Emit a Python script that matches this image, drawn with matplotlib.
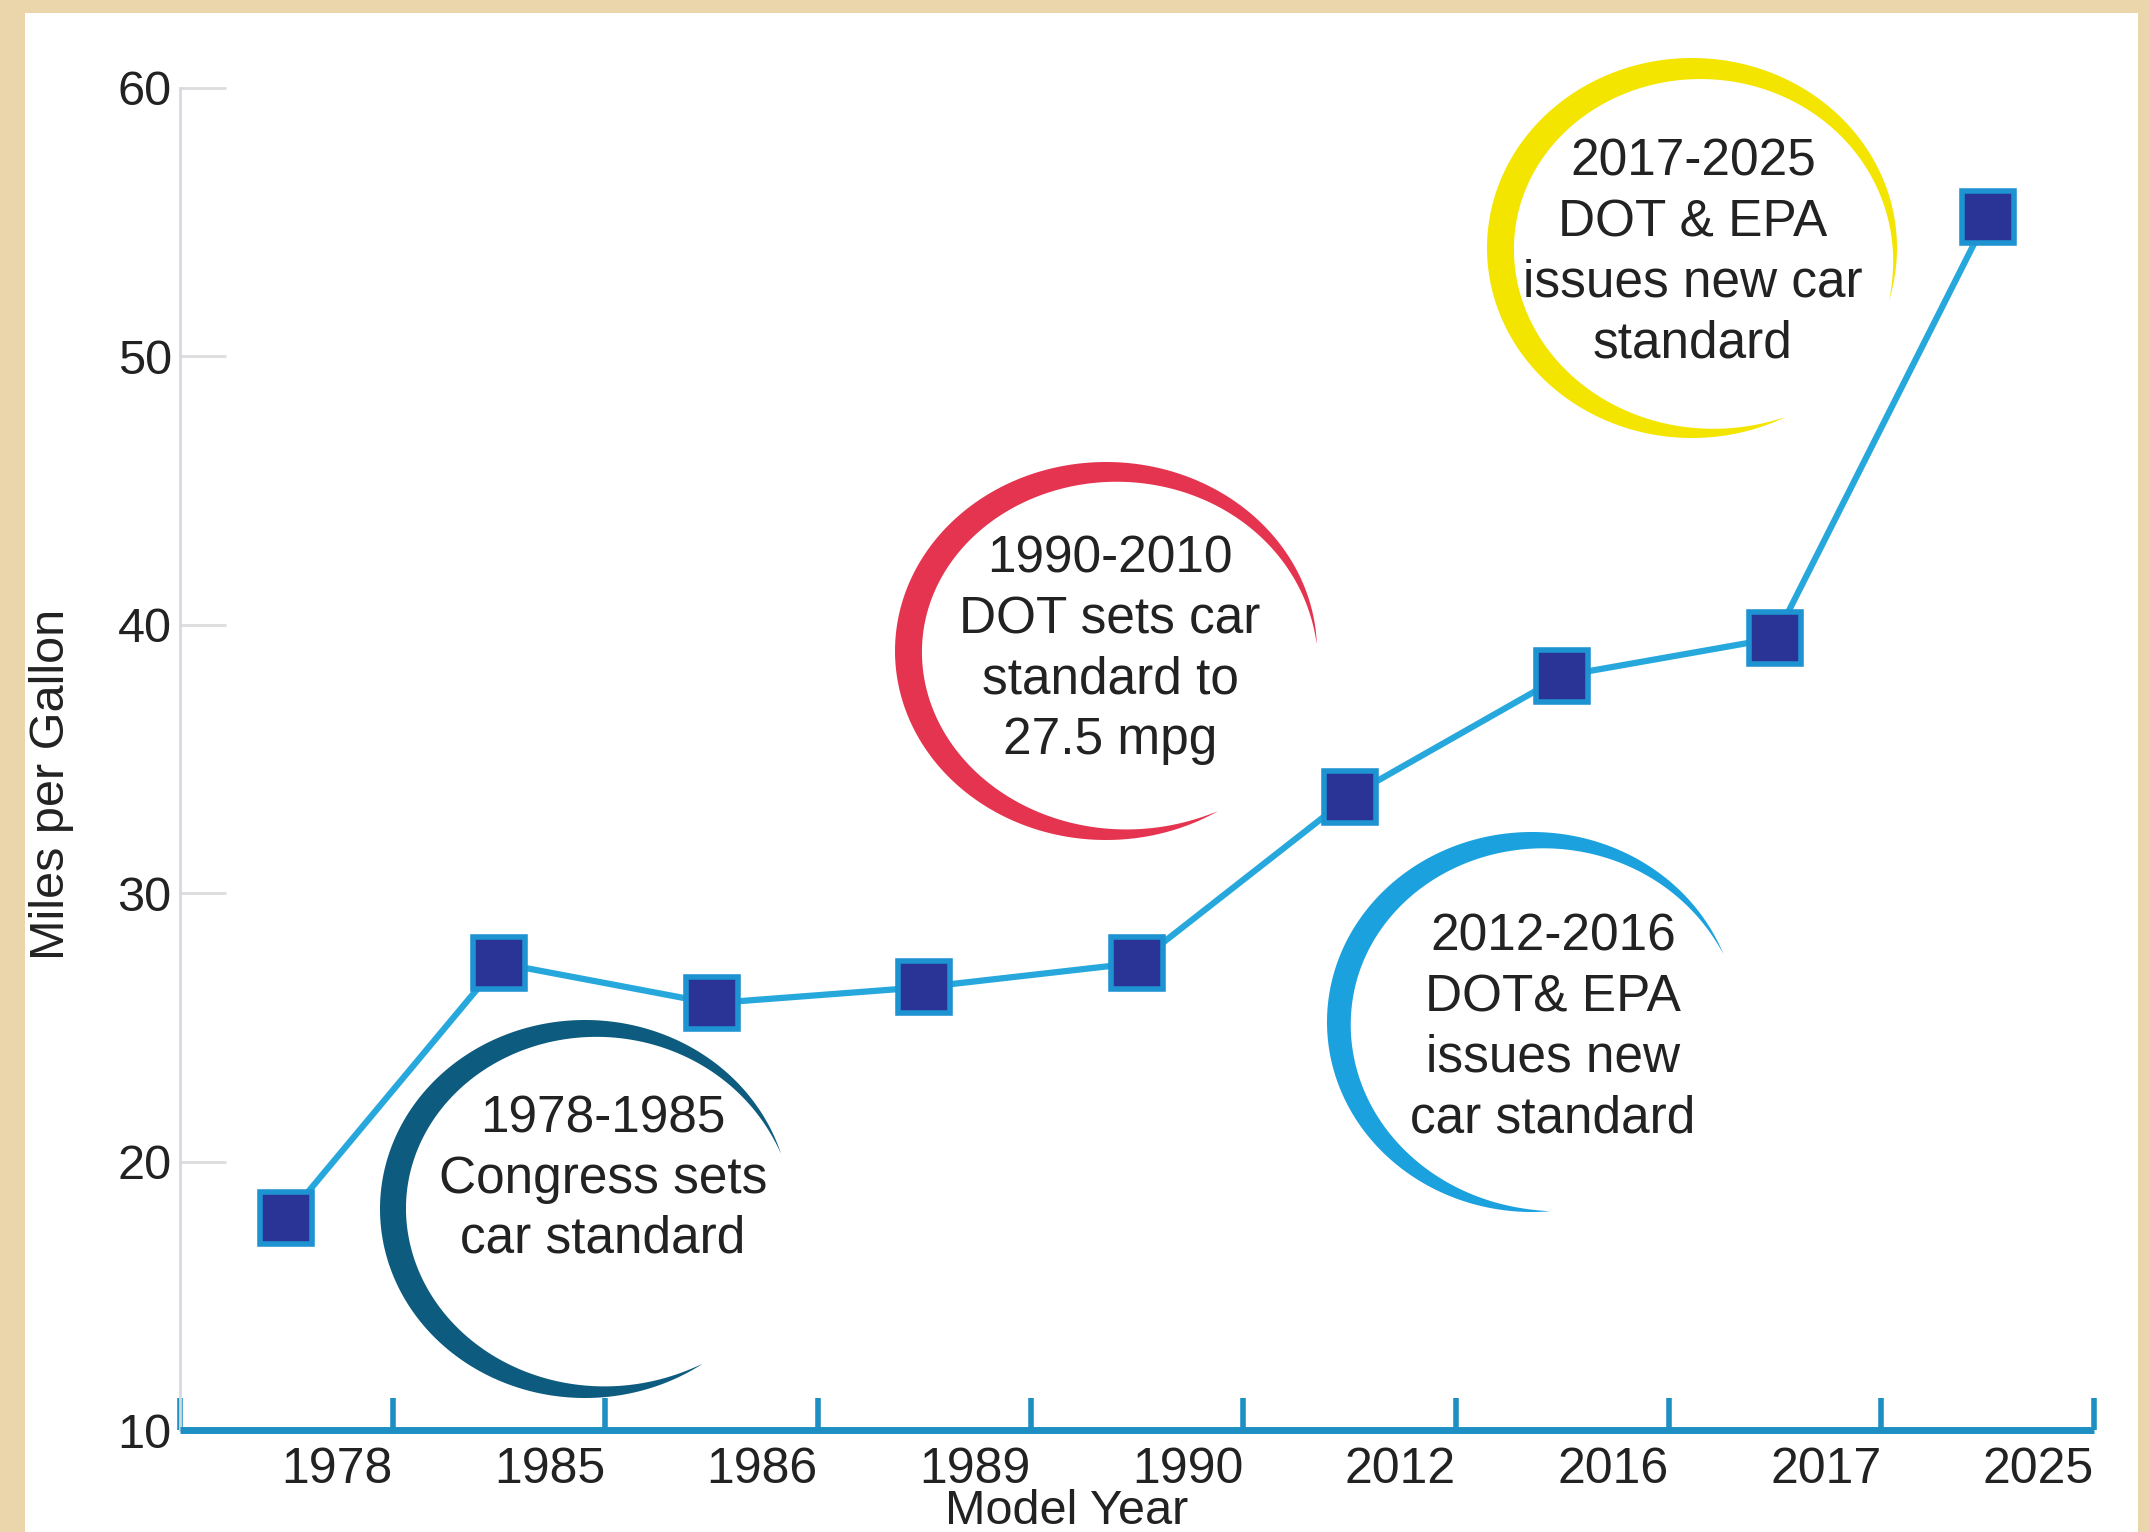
import numpy as np
import matplotlib
matplotlib.use("Agg")
import matplotlib.pyplot as plt
from matplotlib.patches import Rectangle, Polygon

plt.rcParams['font.family'] = ['Liberation Sans', 'DejaVu Sans']

# data
years = ['1978', '1985', '1986', '1989', '1990', '2012', '2016', '2017', '2025']
mpg = [17.9, 27.4, 25.9, 26.5, 27.4, 33.6, 38.1, 39.5, 55.2]
y_ticks = [10, 20, 30, 40, 50, 60]

# annotation bubbles (text, colour)
notes = ['1978-1985\nCongress sets\ncar standard',
         '1990-2010\nDOT sets car\nstandard to\n27.5 mpg',
         '2012-2016\nDOT& EPA\nissues new\ncar standard',
         '2017-2025\nDOT & EPA\nissues new car\nstandard']
note_colors = ['#0D5B7E', '#E5344F', '#1BA1DE', '#F3E500']

W, H = 2150, 1532
fig = plt.figure(figsize=(W / 100, H / 100), dpi=100, facecolor='#EBD6AC')
fig.patches.append(Rectangle((25 / W, 0), (2138 - 25) / W, 1 - 13 / H,
                             transform=fig.transFigure, facecolor='white',
                             edgecolor='none', zorder=0))

# overlay in pixel coords for the swoosh circles
ov = fig.add_axes([0, 0, 1, 1], zorder=1)
ov.set_xlim(0, W)
ov.set_ylim(H, 0)
ov.axis('off')


def swoosh(cx, cy, rx, ry, a0, a1, ap, t, color):
    ang = np.linspace(a0, a1, 400)
    u = (ang - a0) / (a1 - a0)
    up = (ap - a0) / (a1 - a0)
    s = np.where(u < up, np.sin(np.pi / 2 * u / up),
                 np.sin(np.pi / 2 * (1 - u) / (1 - up)))
    w = t * np.clip(s, 0, 1) ** 0.9
    r = np.radians(ang)
    ox, oy = cx + rx * np.cos(r), cy - ry * np.sin(r)
    ix, iy = cx + (rx - w) * np.cos(r), cy - (ry - w) * np.sin(r)
    pts = np.vstack([np.column_stack([ox, oy]),
                     np.column_stack([ix, iy])[::-1]])
    ov.add_patch(Polygon(pts, closed=True, facecolor=color, edgecolor='none'))


arcs = [(585, 1209, 205, 189, 17, 305, 185, 26),
        (1106, 651, 211, 189, 2, 302, 175, 27),
        (1532, 1022, 205, 190, 21, 275, 170, 24),
        (1692, 248, 205, 190, -16, 297, 175, 27)]
text_pos = [(603, 1179), (1110, 650), (1553, 1028), (1693, 253)]

for a, c, txt, tp in zip(arcs, note_colors, notes, text_pos):
    swoosh(*a, c)
    ov.text(tp[0], tp[1], txt, ha='center', va='center', fontsize=37,
            color='#222222', linespacing=1.3, multialignment='center')

# main chart
ax = fig.add_axes([180 / W, 1 - 1430 / H, (2094 - 180) / W, (1430 - 88) / H], zorder=2)
ax.set_facecolor('none')
x = np.arange(len(years)) + 0.5
ax.plot(x, mpg, color='#27A8DC', lw=4.5, marker='s', ms=38,
        mfc='#2A3396', mec='#1E93D2', mew=4, clip_on=False, zorder=3)

ax.set_xlim(0, len(years))
ax.set_ylim(10, 60)

for side in ['top', 'right']:
    ax.spines[side].set_visible(False)
ax.spines['left'].set_color('#D6DAE0')
ax.spines['left'].set_linewidth(2)
ax.spines['bottom'].set_color('#1E8FC3')
ax.spines['bottom'].set_linewidth(5)
ax.spines['bottom'].set_capstyle('butt')

ax.set_yticks(y_ticks)
ax.set_yticklabels([str(v) for v in y_ticks])
ax.tick_params(axis='y', direction='in', length=33, width=2, color='#DCDCDC',
               labelsize=35, labelcolor='#222222', pad=6)

ax.set_xticks(range(len(years) + 1))
ax.set_xticklabels([''] + years)
ax.tick_params(axis='x', direction='in', length=23, width=4, color='#1E8FC3',
               labelsize=36, labelcolor='#222222', pad=12)
for lbl in ax.get_xticklabels():
    lbl.set_horizontalalignment('right')

fig.text(52 / W, 1 - 784 / H, 'Miles per Gallon', rotation=90, ha='center',
         va='center', fontsize=35, color='#222222')
fig.text(1067 / W, 1 - 1524 / H, 'Model Year', ha='center', va='baseline',
         fontsize=35, color='#222222')

fig.savefig('out.png', dpi=100, facecolor=fig.get_facecolor())
